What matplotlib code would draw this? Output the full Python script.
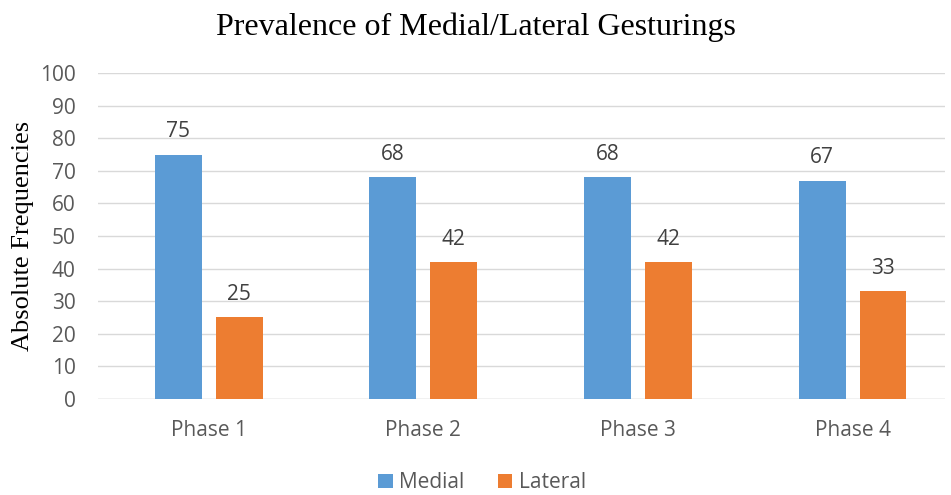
import numpy as np
import matplotlib.pyplot as plt

phases = ['Phase 1', 'Phase 2', 'Phase 3', 'Phase 4']
medial = [75, 68, 68, 67]
lateral = [25, 42, 42, 33]

blue = '#5B9BD5'
orange = '#ED7D31'
sans = ['Open Sans', 'DejaVu Sans']
serif = ['Liberation Serif', 'DejaVu Serif']

fig = plt.figure(figsize=(9.51, 4.95), dpi=100)
ax = fig.add_axes([0.103, 0.194, 0.8907, 0.6585])

x = np.arange(len(phases))
w = 0.219
off = 0.142
b1 = ax.bar(x - off, medial, w, color=blue, label='Medial', zorder=3)
b2 = ax.bar(x + off, lateral, w, color=orange, label='Lateral', zorder=3)

for bars in (b1, b2):
    for r in bars:
        ax.text(r.get_x() + r.get_width() / 2, r.get_height() + 3.8, str(int(r.get_height())),
                ha='center', va='bottom', fontsize=15, color='#404040', family=sans)

ax.set_xlim(-0.517, 3.431)
ax.set_ylim(0, 100)
ax.set_yticks(range(0, 101, 10))
ax.set_xticks(x)
ax.set_xticklabels(phases)
ax.yaxis.grid(True, color='#D9D9D9', linewidth=1, zorder=0)
for s in ax.spines.values():
    s.set_visible(False)
ax.tick_params(length=0, colors='#595959', labelsize=15)
ax.tick_params(axis='x', pad=15)
ax.tick_params(axis='y', pad=16)
for lab in ax.get_xticklabels() + ax.get_yticklabels():
    lab.set_family(sans)
ax.axhline(0, color='#D9D9D9', linewidth=1, zorder=2)

ax.set_ylabel('Absolute Frequencies', fontsize=19, family=serif, color='black', labelpad=4)
fig.suptitle('Prevalence of Medial/Lateral Gesturings', fontsize=23, family=serif, y=0.975)

leg = fig.legend(loc='center', bbox_to_anchor=(0.507, 0.025), ncol=2, frameon=False,
                 prop={'family': sans, 'size': 15}, handlelength=0.7, handleheight=0.7,
                 columnspacing=1.6, handletextpad=0.3)
for t in leg.get_texts():
    t.set_color('#595959')

fig.savefig('out.png', dpi=100)
